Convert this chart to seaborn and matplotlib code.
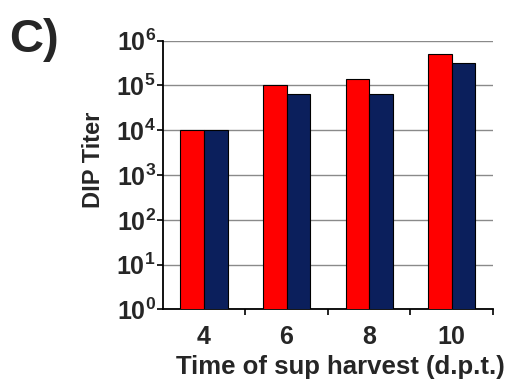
import matplotlib
matplotlib.use("Agg")
import matplotlib.pyplot as plt
import seaborn as sns
import pandas as pd
import numpy as np

days = ["4", "6", "8", "10"]
series_a = [1.0e4, 1.0e5, 1.4e5, 5.0e5]
series_b = [1.0e4, 6.3e4, 6.3e4, 3.2e5]
series_names = ["A", "B"]
colors = ["#ff0000", "#0b1f5c"]
ytick_exps = [0, 1, 2, 3, 4, 5, 6]

sns.set_style("white")
plt.rcParams["font.family"] = ["Liberation Sans", "DejaVu Sans"]
plt.rcParams["mathtext.fontset"] = "custom"
plt.rcParams["mathtext.rm"] = "Liberation Sans:bold"
plt.rcParams["mathtext.bf"] = "Liberation Sans:bold"
plt.rcParams["mathtext.it"] = "Liberation Sans:bold"

df = pd.DataFrame({
    "day": days * 2,
    "titer": series_a + series_b,
    "series": [series_names[0]] * 4 + [series_names[1]] * 4,
})

fig = plt.figure(figsize=(5.07, 3.83), dpi=100)
ax = fig.add_axes([0.321, 0.192, 0.651, 0.702])
ax.set_yscale("log")
sns.barplot(data=df, x="day", y="titer", hue="series", order=days,
            palette=colors, saturation=1, width=0.57, edgecolor="black",
            linewidth=0.8, legend=False, ax=ax, zorder=3)
ax.set_ylim(1, 1e6)
ax.set_xlim(-0.5, 3.5)
ax.set_yticks([10.0 ** e for e in ytick_exps])
ax.set_yticklabels([r"$\mathbf{10^{%d}}$" % e for e in ytick_exps])
ax.yaxis.set_minor_locator(matplotlib.ticker.NullLocator())
ax.grid(axis="y", color="#8a8a8a", linewidth=1.0, zorder=0)
ax.set_axisbelow(True)
for s in ["top", "right"]:
    ax.spines[s].set_visible(False)
for s in ["left", "bottom"]:
    ax.spines[s].set_color("black")
    ax.spines[s].set_linewidth(1.3)
ax.tick_params(axis="y", which="major", direction="out", length=4, width=1.2,
               labelsize=18, pad=1, left=True, color="black")
ax.tick_params(axis="x", which="major", length=0, labelsize=18, pad=11)
ax.set_xticks(range(len(days)))
ax.set_xticklabels(days, fontweight="bold")
ax.set_xticks([0.5, 1.5, 2.5, 3.5], minor=True)
ax.tick_params(axis="x", which="minor", direction="out", length=4, width=1.2,
               bottom=True, color="black")
ax.set_xlabel("")
ax.set_ylabel("")
fig.text(340 / 507, 1 - 367 / 383, "Time of sup harvest (d.p.t.)", fontsize=18.5,
         fontweight="bold", ha="center", va="center")
fig.text(93 / 507, 1 - 160 / 383, "DIP Titer", fontsize=17, fontweight="bold",
         rotation=90, ha="center", va="center")
fig.text(0.018, 1 - 40 / 383, "C)", fontsize=34, fontweight="bold", ha="left", va="center")
fig.savefig("out.png", dpi=100)
